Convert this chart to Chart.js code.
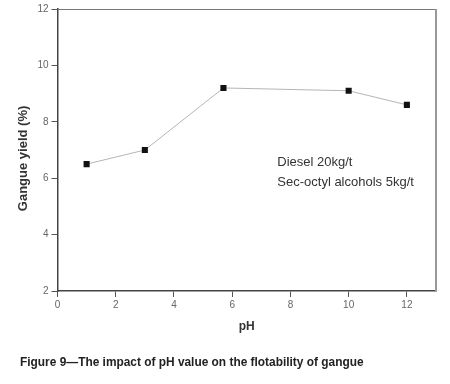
<!DOCTYPE html>
<html>
<head>
<meta charset="utf-8">
<script src="https://cdn.jsdelivr.net/npm/chart.js@4"></script>
<style>
  html, body { margin: 0; padding: 0; background: #fff; }
  #wrap { position: relative; width: 450px; height: 384px; }
  #c { position: absolute; left: 0; top: 0; }
  #caption { position: absolute; left: 20px; top: 355px; font: bold 11.9px "Liberation Sans", Arial, sans-serif; color: #222; white-space: nowrap; }
</style>
</head>
<body>
<div id="wrap">
  <canvas id="c" width="450" height="384"></canvas>
  <div id="caption">Figure 9—The impact of pH value on the flotability of gangue</div>
</div>
<script>
const phValues = [1, 3, 5.7, 10, 12];
const gangueYield = [6.5, 7.0, 9.2, 9.1, 8.6];
const xTicks = [0, 2, 4, 6, 8, 10, 12];
const yTicks = [2, 4, 6, 8, 10, 12];
const annotationLines = ['Diesel 20kg/t', 'Sec-octyl alcohols 5kg/t'];
const xTitle = 'pH';
const yTitle = 'Gangue yield (%)';

const fontFamily = '"Liberation Sans", Arial, sans-serif';

const framePlugin = {
  id: 'frame',
  afterDraw(chart) {
    const { ctx, chartArea: a } = chart;
    ctx.save();
    ctx.strokeStyle = '#777';
    ctx.lineWidth = 1;
    ctx.beginPath();
    ctx.moveTo(a.left, a.top + 0.5);
    ctx.lineTo(a.right, a.top + 0.5);
    ctx.stroke();
    ctx.strokeStyle = '#999';
    ctx.lineWidth = 2;
    ctx.beginPath();
    ctx.moveTo(a.right, a.top);
    ctx.lineTo(a.right, a.bottom);
    ctx.stroke();
    // annotation
    ctx.fillStyle = '#333';
    ctx.font = '13px ' + fontFamily;
    ctx.textBaseline = 'middle';
    ctx.textAlign = 'left';
    const x = chart.scales.x.getPixelForValue(7.55);
    const y0 = chart.scales.y.getPixelForValue(6.55);
    annotationLines.forEach((t, i) => ctx.fillText(t, x, y0 + i * 20));
    // y axis title
    ctx.font = 'bold 13px ' + fontFamily;
    ctx.textAlign = 'center';
    ctx.translate(23, chart.scales.y.getPixelForValue(6.7));
    ctx.rotate(-Math.PI / 2);
    ctx.fillText(yTitle, 0, 0);
    ctx.restore();
  }
};

new Chart(document.getElementById('c'), {
  type: 'scatter',
  data: {
    datasets: [{
      data: phValues.map((v, i) => ({ x: v, y: gangueYield[i] })),
      showLine: true,
      borderColor: '#b5b5b5',
      borderWidth: 1,
      pointStyle: 'rect',
      pointRadius: 4.3,
      pointBorderWidth: 0,
      pointBackgroundColor: '#111',
      pointHoverRadius: 4.3
    }]
  },
  options: {
    responsive: false,
    animation: false,
    events: [],
    layout: { padding: { top: 8, right: 14, left: 0, bottom: 0 } },
    plugins: { legend: { display: false }, tooltip: { enabled: false } },
    scales: {
      x: {
        type: 'linear',
        min: 0, max: 13,
        afterFit: s => { s.height = 93; },
        afterBuildTicks: s => { s.ticks = xTicks.map(v => ({ value: v })); },
        ticks: { color: '#666', font: { size: 10, family: fontFamily }, padding: 2, maxRotation: 0 },
        grid: { drawOnChartArea: false, drawTicks: true, tickLength: 6, color: '#555' },
        border: { color: '#444', width: 1.5 },
        title: { display: true, text: xTitle, color: '#333', font: { size: 12, weight: 'bold', family: fontFamily }, padding: { top: 0, bottom: 50 } }
      },
      y: {
        type: 'linear',
        min: 2, max: 12,
        afterFit: s => { s.width = 57.5; },
        afterBuildTicks: s => { s.ticks = yTicks.map(v => ({ value: v })); },
        ticks: { color: '#666', font: { size: 10, family: fontFamily }, padding: 3 },
        grid: { drawOnChartArea: false, drawTicks: true, tickLength: 6, color: '#555' },
        border: { color: '#444', width: 1.5 },
        title: { display: false, text: yTitle }
      }
    }
  },
  plugins: [framePlugin]
});
</script>
</body>
</html>
